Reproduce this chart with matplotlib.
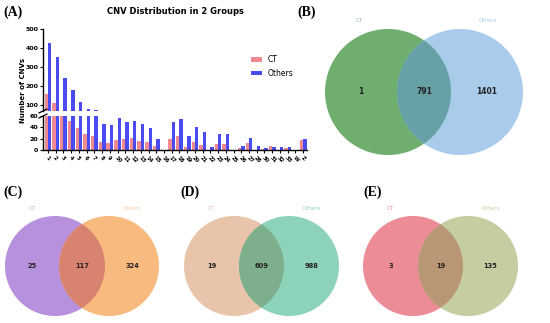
import numpy as np
import matplotlib.pyplot as plt
from matplotlib.patches import Circle

# dados do painel A (CNVs por cromossomo)
chroms = [str(i) for i in range(1, 29)] + ['30', '31', '32', '33', 'W', 'Z']
ct_counts = [160, 112, 72, 52, 39, 29, 24, 15, 13, 18, 19, 21, 16, 15, 7, 0,
             20, 24, 5, 15, 8, 0, 10, 10, 0, 3, 13, 0, 2, 7, 0, 4, 0, 18]
others_counts = [428, 354, 242, 178, 118, 80, 75, 46, 44, 56, 50, 52, 46, 39, 20, 0,
                 49, 54, 24, 40, 31, 5, 28, 28, 0, 7, 21, 7, 3, 6, 5, 5, 0, 19]

# dados dos diagramas de Venn (so CT, ambos, so Others)
venn_b = [1, 791, 1401]
venn_c = [25, 117, 324]
venn_d = [19, 609, 988]
venn_e = [3, 19, 135]

W, H = 550, 323
fig = plt.figure(figsize=(5.5, 3.23), dpi=100)

def fx(px):
    return px / W

def fy(py):
    return 1 - py / H

# ---- painel A: barras com eixo quebrado ----
left, right = 43, 307
ax_top = fig.add_axes([fx(left), fy(111), fx(right - left), fy(29) - fy(111)])
ax_bot = fig.add_axes([fx(left), fy(150), fx(right - left), fy(116) - fy(150)])

x = np.arange(len(chroms))
bw = 0.44
for ax in (ax_top, ax_bot):
    ax.bar(x - bw / 2, ct_counts, bw, color='#F08A92', label='CT')
    ax.bar(x + bw / 2, others_counts, bw, color='#4B4BF2', label='Others')
    ax.set_xlim(-0.65, len(chroms) - 0.5)
    for s in ('top', 'right'):
        ax.spines[s].set_visible(False)
    for s in ('left', 'bottom'):
        ax.spines[s].set_linewidth(1.0)
    ax.tick_params(axis='y', labelsize=4.5, length=2.5, width=0.8, pad=1)
    for lab in ax.get_yticklabels():
        lab.set_fontweight('bold')

ax_top.set_ylim(70, 500)
ax_top.set_yticks([100, 200, 300, 400, 500])
ax_top.spines['bottom'].set_visible(False)
ax_top.tick_params(axis='x', bottom=False, labelbottom=False)
for lab in ax_top.get_yticklabels():
    lab.set_fontweight('bold')

ax_bot.set_ylim(0, 60)
ax_bot.set_yticks([0, 20, 40, 60])
ax_bot.set_xticks(x)
ax_bot.set_xticklabels(chroms, rotation=-45, ha='left', rotation_mode='anchor',
                       fontsize=3.8, fontweight='bold')
ax_bot.tick_params(axis='x', length=2.5, width=0.8, pad=1)
for lab in ax_bot.get_yticklabels():
    lab.set_fontweight('bold')

# marcas de quebra do eixo
d = 0.012
kw = dict(color='k', lw=0.9, clip_on=False, transform=fig.transFigure)
for yy in (fy(111), fy(116)):
    fig.add_artist(plt.Line2D([fx(left) - d * 0.6, fx(left) + d * 0.6],
                              [yy - d * 0.5, yy + d * 0.5], **kw))

fig.text(fx(23), fy(90), 'Number of CNVs', rotation=90, ha='center', va='center',
         fontsize=5, fontweight='bold')
fig.text(fx(175), fy(11), 'CNV Distribution in 2 Groups', ha='center', va='center',
         fontsize=6, fontweight='bold')
handles, labels = ax_top.get_legend_handles_labels()
fig.legend(handles, labels, loc='upper left', bbox_to_anchor=(fx(248), fy(52)),
           frameon=False, fontsize=5.5, handlelength=1.4, handleheight=0.6,
           borderaxespad=0, labelspacing=0.6, handletextpad=0.8)

# ---- paineis de Venn ----
ov = fig.add_axes([0, 0, 1, 1], zorder=-1)
ov.set_xlim(0, W)
ov.set_ylim(H, 0)
ov.axis('off')

def venn(cx1, cx2, cy, r, c1, c2, c12, counts, lab_col1, lab_col2, fs, lab_y):
    p1 = Circle((cx1, cy), r, color=c1, lw=0)
    p2 = Circle((cx2, cy), r, color=c2, lw=0)
    ov.add_patch(p1)
    ov.add_patch(p2)
    p12 = Circle((cx2, cy), r, color=c12, lw=0)
    ov.add_patch(p12)
    p12.set_clip_path(p1)
    mid = (cx1 + cx2) / 2
    xs = [(cx1 - r + cx2 - r) / 2, mid, (cx1 + r + cx2 + r) / 2]
    for xx, n in zip(xs, counts):
        ov.text(xx, cy, str(n), ha='center', va='center', fontsize=fs,
                fontweight='bold', color='#222222')
    ov.text(cx1 - r * 0.45, lab_y, 'CT', ha='center', va='center', fontsize=4, color=lab_col1)
    ov.text(cx2 + r * 0.45, lab_y, 'Others', ha='center', va='center', fontsize=4, color=lab_col2)

venn(388, 460, 92, 63, '#6FAE6F', '#A9CCEA', '#66A1A5', venn_b, '#8CC08C', '#A9CCEA', 5.5, 20)
venn(55, 109, 266, 50, '#B791DD', '#F9BA7F', '#D7836F', venn_c, '#C6A8E6', '#F9C9A0', 4.8, 208)
venn(234, 289, 266, 50, '#E8C4AB', '#8DD3BA', '#7EAF8D', venn_d, '#E8C4AB', '#8DD3BA', 4.8, 208)
venn(413, 468, 266, 50, '#EC8C97', '#C4CEA1', '#B99774', venn_e, '#EC8C97', '#C4CEA1', 4.8, 208)

# letras dos paineis
for lab, px, py in [('(A)', 3, 12), ('(B)', 297, 12), ('(C)', 3, 192),
                    ('(D)', 180, 192), ('(E)', 363, 192)]:
    fig.text(fx(px), fy(py), lab, ha='left', va='center', fontsize=10,
             fontweight='bold', family='Liberation Serif')

fig.savefig('out.png', dpi=100)
